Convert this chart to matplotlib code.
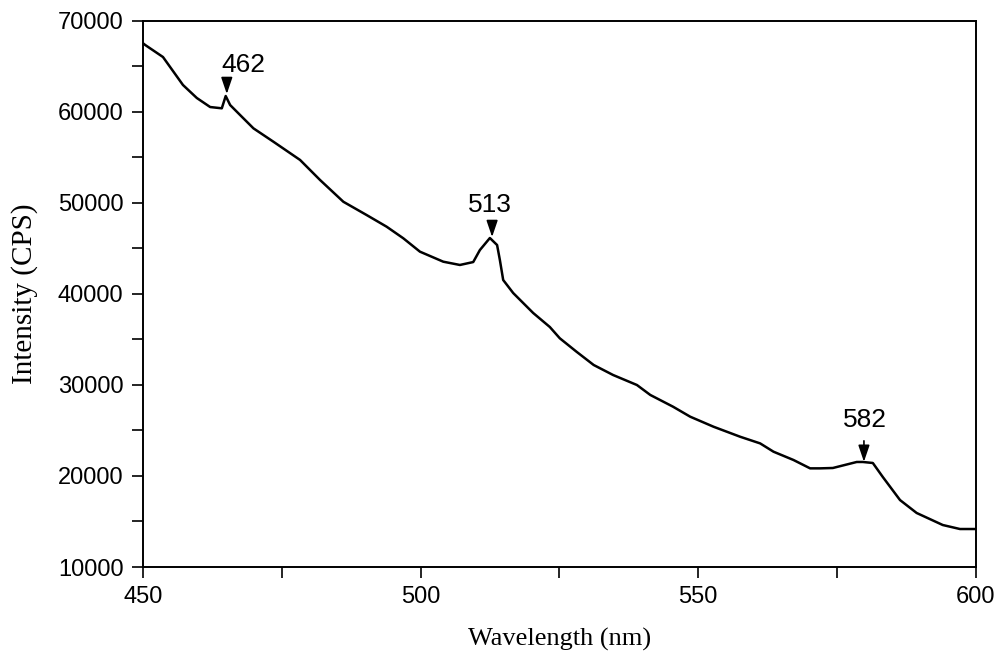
import numpy as np
import matplotlib.pyplot as plt
from matplotlib.ticker import MultipleLocator

# Emission spectrum
wavelength = [450.0, 450.4, 453.6, 457.2, 459.7, 462.1, 464.2, 464.9, 465.7, 467.5,
              469.9, 473.5, 478.3, 481.9, 486.1, 490.3, 493.9, 496.9, 499.9, 504.1,
              507.1, 509.5, 510.7, 512.5, 513.8, 514.3, 514.9, 516.7, 520.3, 523.3,
              525.1, 528.1, 531.2, 534.7, 539.0, 541.4, 545.5, 548.6, 552.8, 557.6,
              561.2, 563.6, 567.2, 570.2, 572.0, 574.3, 578.6, 579.7, 581.5, 583.3,
              586.4, 589.4, 594.1, 597.2, 600.0]
intensity = [67500, 67310, 65990, 62920, 61490, 60500, 60360, 61710, 60720, 59620,
             58160, 56690, 54690, 52490, 50100, 48640, 47360, 46090, 44620, 43520,
             43160, 43480, 44800, 46120, 45350, 43710, 41510, 40080, 37890, 36350,
             35110, 33640, 32180, 31080, 29980, 28890, 27600, 26500, 25400, 24300,
             23570, 22660, 21750, 20830, 20830, 20870, 21530, 21530, 21420, 19880,
             17350, 15930, 14610, 14170, 14170]

# peak labels: text, text position, arrow start, arrow tip
peak_labels = ['462', '513', '582']
label_xy = [(468.0, 65100), (512.5, 49750), (580.1, 26150)]
arrow_from = [(465.1, 63470), (512.9, 47880), (579.9, 23850)]
arrow_to = [(465.1, 61930), (512.9, 46230), (579.9, 21550)]

fig = plt.figure(figsize=(9.97, 6.53), dpi=100)
ax = fig.add_axes([143/997, 1-567/653, (975.5-143)/997, (567-20.5)/653])

ax.plot(wavelength, intensity, color='black', lw=1.8)

for lab, txy, a0, a1 in zip(peak_labels, label_xy, arrow_from, arrow_to):
    ax.text(txy[0], txy[1], lab, ha='center', va='center', fontsize=19,
            family='Liberation Sans')
    ax.annotate('', xy=a1, xytext=a0,
                arrowprops=dict(arrowstyle='-|>,head_length=0.5,head_width=0.17',
                                mutation_scale=20, color='black', lw=1.2,
                                shrinkA=0, shrinkB=0))

ax.set_xlim(450, 600)
ax.set_ylim(10000, 70000)
ax.xaxis.set_major_locator(MultipleLocator(50))
ax.xaxis.set_minor_locator(MultipleLocator(25))
ax.yaxis.set_major_locator(MultipleLocator(10000))
ax.yaxis.set_minor_locator(MultipleLocator(5000))
ax.tick_params(which='both', direction='out', length=8, width=1.2)
ax.tick_params(labelsize=17, pad=6)
for lbl in ax.get_xticklabels() + ax.get_yticklabels():
    lbl.set_family('Liberation Sans')
for sp in ax.spines.values():
    sp.set_linewidth(1.4)

ax.set_xlabel('Wavelength (nm)', family='Liberation Serif', fontsize=19, labelpad=14)
ax.set_ylabel('Intensity (CPS)', family='Liberation Serif', fontsize=21, labelpad=14)

fig.savefig('out.png', dpi=100)
